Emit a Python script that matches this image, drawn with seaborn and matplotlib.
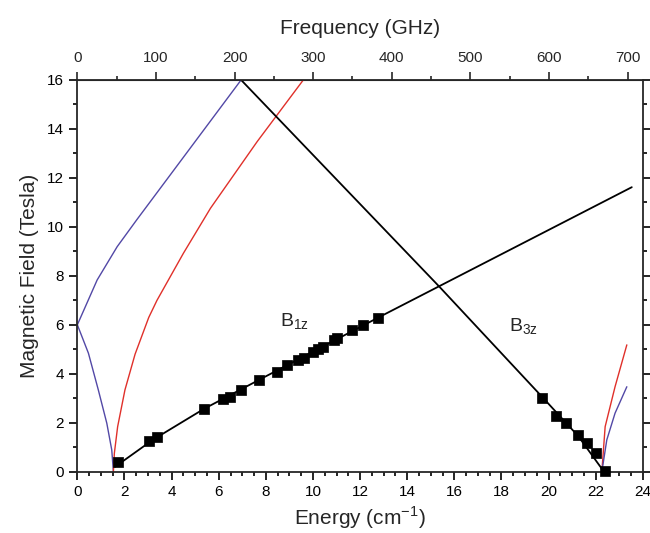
import numpy as np
import pandas as pd
import matplotlib
matplotlib.use("Agg")
import matplotlib.pyplot as plt
from matplotlib.ticker import MultipleLocator, FixedLocator
import seaborn as sns

# measured points (energy cm^-1, field T)
b1z_E = [1.74, 3.06, 3.40, 5.38, 6.17, 6.48, 6.94, 7.73, 8.49, 8.89, 9.38, 9.62,
         10.02, 10.23, 10.42, 10.90, 11.04, 11.65, 12.14, 12.78]
b1z_B = [0.38, 1.27, 1.43, 2.57, 2.96, 3.04, 3.33, 3.76, 4.07, 4.35, 4.56, 4.66,
         4.90, 5.01, 5.11, 5.37, 5.45, 5.79, 6.00, 6.29]
b3z_E = [19.71, 20.32, 20.74, 21.26, 21.65, 22.02, 22.40]
b3z_B = [3.02, 2.29, 2.00, 1.50, 1.19, 0.78, 0.02]

# fitted lines
fit1_E = [1.60, 3.20, 5.38, 7.73, 12.78, 23.53]
fit1_B = [0.20, 1.30, 2.57, 3.76, 6.30, 11.62]
fit3_E = [6.95, 15.37, 19.78, 21.26, 22.35]
fit3_B = [16.0, 7.55, 3.00, 1.45, 0.0]

# simulated branches
blue_up_E = [0.0, 0.84, 1.69, 2.53, 6.95]
blue_up_B = [6.0, 7.83, 9.19, 10.30, 16.0]
blue_dn_E = [0.0, 0.47, 0.89, 1.25, 1.46, 1.53]
blue_dn_B = [6.0, 4.84, 3.34, 1.98, 0.89, 0.0]
red_left_E = [1.53, 1.57, 1.71, 2.02, 2.45, 3.03, 3.38, 4.50, 5.65, 7.63, 9.59]
red_left_B = [0.0, 0.75, 1.84, 3.34, 4.80, 6.30, 7.0, 8.92, 10.76, 13.48, 16.0]
red_right_E = [22.26, 22.40, 22.82, 23.32]
red_right_B = [0.0, 1.84, 3.47, 5.18]
blue_right_E = [22.26, 22.47, 22.82, 23.32]
blue_right_B = [0.0, 1.30, 2.39, 3.47]

freq_ticks = [0, 100, 200, 300, 400, 500, 600, 700]

CM_TO_GHZ = 29.9792458

sns.set_style("ticks")
plt.rcParams['font.family'] = ['Liberation Sans', 'DejaVu Sans']
plt.rcParams['mathtext.fontset'] = 'custom'
plt.rcParams['mathtext.rm'] = 'Liberation Sans'

fig = plt.figure(figsize=(6.5, 5.33), dpi=100)
ax = fig.add_axes([0.119, 0.115, 0.870, 0.735])

blue = '#5248a6'
red = '#e0302a'
for E, B, c in [(blue_up_E, blue_up_B, blue), (blue_dn_E, blue_dn_B, blue),
                (red_left_E, red_left_B, red), (red_right_E, red_right_B, red),
                (blue_right_E, blue_right_B, blue)]:
    sns.lineplot(x=E, y=B, color=c, lw=1.0, sort=False, estimator=None, ax=ax)

sns.lineplot(x=fit1_E, y=fit1_B, color='black', lw=1.3, sort=False, estimator=None, ax=ax)
sns.lineplot(x=fit3_E, y=fit3_B, color='black', lw=1.3, sort=False, estimator=None, ax=ax)

pts = pd.DataFrame({'E': b1z_E + b3z_E, 'B': b1z_B + b3z_B})
sns.scatterplot(data=pts, x='E', y='B', marker='s', s=45, color='black',
                edgecolor='black', linewidth=0.5, ax=ax, zorder=5, clip_on=False)

ax.set_xlim(0, 24)
ax.set_ylim(0, 16)
ax.xaxis.set_major_locator(MultipleLocator(2))
ax.xaxis.set_minor_locator(MultipleLocator(0.5))
ax.yaxis.set_major_locator(MultipleLocator(2))
ax.yaxis.set_minor_locator(MultipleLocator(1))
ax.tick_params(which='both', direction='out', width=1.2, labelsize=11,
               right=True, colors='black')
ax.tick_params(which='major', length=6)
ax.tick_params(which='minor', length=3)
for s in ax.spines.values():
    s.set_linewidth(1.3)
    s.set_visible(True)

ax.set_xlabel('Energy (cm$^{-1}$)', fontsize=15, labelpad=4)
ax.set_ylabel('Magnetic Field (Tesla)', fontsize=15, labelpad=6)

top = ax.secondary_xaxis('top', functions=(lambda e: e * CM_TO_GHZ, lambda f: f / CM_TO_GHZ))
top.xaxis.set_major_locator(FixedLocator(freq_ticks))
top.xaxis.set_minor_locator(FixedLocator([f + 50 for f in freq_ticks]))
top.tick_params(which='both', direction='out', width=1.2, labelsize=11)
top.tick_params(which='major', length=6, pad=5)
top.tick_params(which='minor', length=3)
top.set_xlabel('Frequency (GHz)', fontsize=15, labelpad=12)

ax.text(8.6, 6.1, r'B$_{\mathrm{1z}}$', fontsize=14, va='center')
ax.text(18.3, 5.9, r'B$_{\mathrm{3z}}$', fontsize=14, va='center')

fig.savefig('out.png', dpi=100)
